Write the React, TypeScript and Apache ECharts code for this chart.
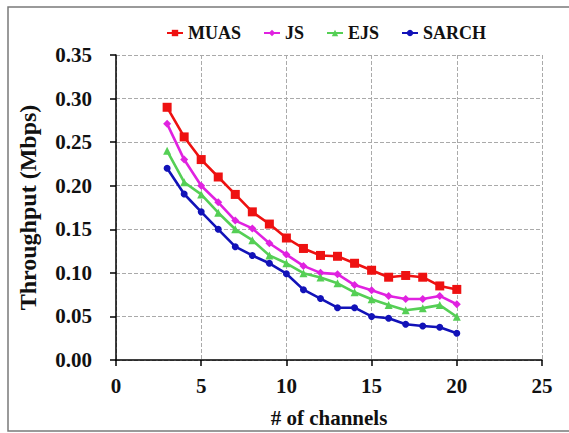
import React, { useEffect, useRef } from "react";
import * as echarts from "echarts";

const channels = [3, 4, 5, 6, 7, 8, 9, 10, 11, 12, 13, 14, 15, 16, 17, 18, 19, 20];
const muas = [0.29, 0.256, 0.23, 0.21, 0.19, 0.17, 0.156, 0.14, 0.128, 0.12, 0.119, 0.111, 0.103, 0.095, 0.097, 0.095, 0.085, 0.081];
const js = [0.271, 0.23, 0.2, 0.181, 0.16, 0.151, 0.134, 0.121, 0.108, 0.1, 0.0985, 0.086, 0.08, 0.0735, 0.07, 0.07, 0.0735, 0.064];
const ejs = [0.24, 0.204, 0.19, 0.169, 0.15, 0.1375, 0.12, 0.111, 0.0996, 0.0947, 0.088, 0.0777, 0.0697, 0.063, 0.057, 0.0595, 0.063, 0.0496];
const sarch = [0.22, 0.1905, 0.17, 0.15, 0.13, 0.12, 0.111, 0.099, 0.0807, 0.0705, 0.06, 0.06, 0.05, 0.048, 0.041, 0.039, 0.0375, 0.0307];
const seriesNames = ["MUAS", "JS", "EJS", "SARCH"];
const xTicks = [0, 5, 10, 15, 20, 25];
const yTicks = [0, 0.05, 0.1, 0.15, 0.2, 0.25, 0.3, 0.35];

const FONT = "Times New Roman, Liberation Serif, serif";

export default function App() {
  const ref = useRef<HTMLDivElement>(null);
  useEffect(() => {
    if (!ref.current) return;
    const chart = echarts.init(ref.current, undefined, { renderer: "svg" });
    const pair = (vals: number[]) => channels.map((c, i) => [c, vals[i]]);
    const mk = (name: string, vals: number[], color: string, symbol: string, size: number) => ({
      name,
      type: "line",
      data: pair(vals),
      symbol,
      symbolSize: size,
      lineStyle: { color, width: 2.6 },
      itemStyle: { color },
    });
    chart.setOption({
      animation: false,
      backgroundColor: "#ffffff",
      textStyle: { fontFamily: FONT, fontWeight: "bold" },
      graphic: [
        {
          type: "rect",
          shape: { x: 8, y: 7, width: 575, height: 424 },
          style: { fill: "none", stroke: "#7a7a7a", lineWidth: 1.5 },
          silent: true,
        },
      ],
      legend: {
        data: seriesNames,
        left: 166,
        top: 24,
        padding: 0,
        itemGap: 22,
        itemWidth: 16,
        itemHeight: 8,
        textStyle: { fontFamily: FONT, fontWeight: "bold", fontSize: 18, color: "#111" },
      },
      grid: { left: 116, right: 27, top: 55, bottom: 70 },
      xAxis: {
        type: "value",
        min: 0,
        max: 25,
        interval: 5,
        name: "# of channels",
        nameLocation: "middle",
        nameGap: 47,
        nameTextStyle: { fontFamily: FONT, fontWeight: "bold", fontSize: 21, color: "#111" },
        axisLine: { show: true, onZero: false, lineStyle: { color: "#000", width: 1.5 } },
        axisTick: { show: true, inside: false, length: 6, lineStyle: { color: "#000", width: 1.5 } },
        axisLabel: {
          margin: 15,
          fontFamily: FONT,
          fontWeight: "bold",
          fontSize: 21,
          color: "#111",
          formatter: (v: number) => (xTicks.includes(v) ? String(v) : ""),
        },
        splitLine: { show: true, lineStyle: { color: "#aaaaaa", type: "dashed", width: 1 } },
      },
      yAxis: {
        type: "value",
        min: 0,
        max: 0.35,
        interval: 0.05,
        name: "Throughput (Mbps)",
        nameLocation: "middle",
        nameGap: 76,
        nameTextStyle: { fontFamily: FONT, fontWeight: "bold", fontSize: 24, color: "#111" },
        axisLine: { show: true, lineStyle: { color: "#000", width: 1.5 } },
        axisTick: { show: true, inside: false, length: 6, lineStyle: { color: "#000", width: 1.5 } },
        axisLabel: {
          margin: 24,
          fontFamily: FONT,
          fontWeight: "bold",
          fontSize: 21,
          color: "#111",
          formatter: (v: number) => {
            const t = yTicks.find((y) => Math.abs(y - v) < 1e-9);
            return t === undefined ? "" : t.toFixed(2);
          },
        },
        splitLine: { show: true, lineStyle: { color: "#aaaaaa", type: "dashed", width: 1 } },
      },
      series: [
        mk(seriesNames[0], muas, "#ee1111", "rect", 9),
        mk(seriesNames[1], js, "#e022e0", "diamond", 8),
        mk(seriesNames[2], ejs, "#55cf55", "triangle", 8),
        mk(seriesNames[3], sarch, "#1212b8", "circle", 7),
      ],
    });
    return () => chart.dispose();
  }, []);
  return (
    <div
      ref={ref}
      style={{ position: "fixed", left: 0, top: 0, width: 569, height: 433, background: "#fff" }}
    />
  );
}
